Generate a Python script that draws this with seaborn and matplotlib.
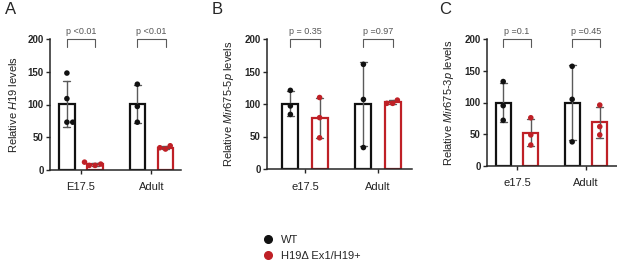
import numpy as np
import pandas as pd
import seaborn as sns
import matplotlib.pyplot as plt
from matplotlib.lines import Line2D

genotypes = ['WT', 'H19\u0394 Ex1/H19+']
wt_color = '#111111'
mut_color = '#bf2026'
err_color = '#5a5a5a'

# panel A - H19
a_stages = ['E17.5', 'Adult']
a_wt_e175 = [148, 109, 73, 73]
a_mut_e175 = [7, 12, 9, 7]
a_wt_adult = [131, 97, 73]
a_mut_adult = [37, 34, 32]
a_pvals = ['p <0.01', 'p <0.01']

# panel B - Mir675-5p
b_stages = ['e17.5', 'Adult']
b_wt_e175 = [121, 97, 84]
b_mut_e175 = [110, 79, 48]
b_wt_adult = [161, 107, 33]
b_mut_adult = [106, 101, 101]
b_pvals = ['p = 0.35', 'p =0.97']

# panel C - Mir675-3p
c_stages = ['e17.5', 'Adult']
c_wt_e175 = [133, 95, 72]
c_mut_e175 = [76, 49, 33]
c_wt_adult = [157, 105, 38]
c_mut_adult = [96, 62, 49]
c_pvals = ['p =0.1', 'p =0.45']


def make_df(stages, wt1, mut1, wt2, mut2):
  rows = []
  for stage, geno, vals in [(stages[0], genotypes[0], wt1), (stages[0], genotypes[1], mut1),
                            (stages[1], genotypes[0], wt2), (stages[1], genotypes[1], mut2)]:
    for v in vals:
      rows.append({'stage': stage, 'geno': geno, 'value': v})
  return pd.DataFrame(rows)


def panel(fig, rect_px, xlim, df, stages, ylabel, pvals, letter, letter_x):
  W, H = 617, 263
  l, r, t, b = rect_px
  ax = fig.add_axes([l / W, (H - b) / H, (r - l) / W, (b - t) / H])
  pal = [wt_color, mut_color]
  sns.barplot(data=df, x='stage', y='value', hue='geno', order=stages, hue_order=genotypes,
              palette=pal, fill=False, linewidth=1.6, width=0.8, gap=0.45,
              errorbar='sd', capsize=0.2, err_kws={'color': err_color, 'linewidth': 1},
              legend=False, ax=ax)
  sns.swarmplot(data=df, x='stage', y='value', hue='geno', order=stages, hue_order=genotypes,
                palette=pal, dodge=True, size=4, legend=False, zorder=3, ax=ax)
  ax.set_ylim(0, 200)
  ax.set_xlim(*xlim)
  ax.set_yticks([0, 50, 100, 150, 200])
  ax.set_xlabel('')
  ax.set_ylabel(ylabel, fontsize=8, color='#222222')
  ax.yaxis.set_label_coords(-31 / (r - l), 0.5)
  for lab in ax.get_yticklabels():
    lab.set_fontweight('bold')
  ax.tick_params(axis='y', labelsize=7, length=3, width=1, pad=1.5)
  ax.tick_params(axis='x', labelsize=8, length=3, width=1, pad=6, labelcolor='#222222')
  for s in ['left', 'bottom']:
    ax.spines[s].set_linewidth(1.1)
  sns.despine(ax=ax)

  for i, p in enumerate(pvals):
    x1, x2 = i - 0.2, i + 0.2
    ax.plot([x1, x1, x2, x2], [188, 200, 200, 188], color=err_color, lw=0.8, clip_on=False)
    ax.text(i, 212, p, ha='center', va='center', fontsize=6.5, color='#555555')
  fig.text(letter_x / W, 1 - 9 / H, letter, fontsize=12, ha='center', va='center')
  return ax


def main():
  sns.set_style('ticks')
  plt.rcParams['font.family'] = ['Liberation Sans', 'DejaVu Sans']
  plt.rcParams['mathtext.fontset'] = 'custom'
  plt.rcParams['mathtext.it'] = 'Liberation Sans:italic'
  plt.rcParams['mathtext.rm'] = 'Liberation Sans'

  fig = plt.figure(figsize=(6.17, 2.63), dpi=100)

  df_a = make_df(a_stages, a_wt_e175, a_mut_e175, a_wt_adult, a_mut_adult)
  df_b = make_df(b_stages, b_wt_e175, b_mut_e175, b_wt_adult, b_mut_adult)
  df_c = make_df(c_stages, c_wt_e175, c_mut_e175, c_wt_adult, c_mut_adult)

  panel(fig, (50, 181, 39, 170), (-0.44, 1.42), df_a, a_stages,
        r'Relative $\mathit{H19}$ levels', a_pvals, 'A', 11)
  panel(fig, (267, 412, 39, 169), (-0.52, 1.465), df_b, b_stages,
        r'Relative $\mathit{Mir675}$-$\mathit{5p}$ levels', b_pvals, 'B', 217)
  panel(fig, (487, 617, 39, 166), (-0.435, 1.45), df_c, c_stages,
        r'Relative $\mathit{Mir675}$-$\mathit{3p}$ levels', c_pvals, 'C', 445)

  handles = [Line2D([], [], marker='o', ls='', color=wt_color, markersize=5.5),
             Line2D([], [], marker='o', ls='', color=mut_color, markersize=5.5)]
  fig.legend(handles, genotypes, loc='center left', bbox_to_anchor=(262 / 617, 1 - 248 / 263),
             frameon=False, fontsize=8, handlelength=1, handletextpad=0.7,
             labelspacing=0.6, borderpad=0, borderaxespad=0)

  fig.savefig('out.png', dpi=100)


if __name__ == '__main__':
  main()
